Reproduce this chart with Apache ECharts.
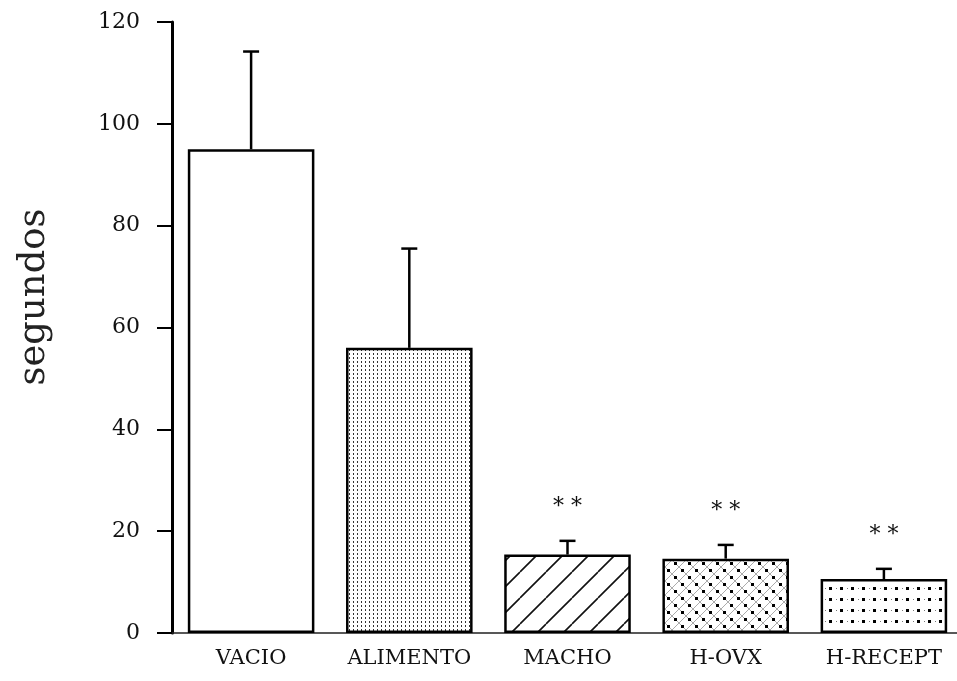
<!DOCTYPE html>
<html>
<head>
<meta charset="utf-8">
<script src="https://cdn.jsdelivr.net/npm/echarts@6/dist/echarts.min.js"></script>
<style>
  html, body { margin: 0; padding: 0; background: #fff; }
  #chart { width: 957px; height: 681px; }
</style>
</head>
<body>
<div id="chart"></div>
<script>
// Grupos experimentales y tiempos medios (segundos) con su error estándar superior
const categories = ['VACIO', 'ALIMENTO', 'MACHO', 'H-OVX', 'H-RECEPT'];
const means = [95, 56, 15.4, 14.6, 10.6];
const errorTops = [114.2, 75.5, 18.1, 17.3, 12.6];
const significance = ['', '', '* *', '* *', '* *'];
const yTicks = [0, 20, 40, 60, 80, 100, 120];
const yTitle = 'segundos';

const SERIF = '"DejaVu Serif", "Liberation Serif", serif';

// Tramas de relleno de cada barra
function makeTile(w, h, draw) {
  const c = document.createElement('canvas');
  c.width = w; c.height = h;
  const ctx = c.getContext('2d');
  ctx.fillStyle = '#fff';
  ctx.fillRect(0, 0, w, h);
  draw(ctx);
  return { image: c, repeat: 'repeat' };
}

const fills = [
  '#ffffff',
  // punteado fino
  makeTile(4, 4, ctx => {
    ctx.fillStyle = '#333';
    ctx.fillRect(1, 1, 1, 2);
  }),
  // rayado diagonal
  makeTile(26, 26, ctx => {
    ctx.strokeStyle = '#111';
    ctx.lineWidth = 1.6;
    ctx.beginPath();
    for (let k = -26; k <= 52; k += 26) {
      ctx.moveTo(k, 26);
      ctx.lineTo(k + 26, 0);
    }
    ctx.stroke();
  }),
  // trama cruzada con puntos
  makeTile(14, 14, ctx => {
    ctx.strokeStyle = '#888';
    ctx.lineWidth = 0.7;
    ctx.beginPath();
    ctx.moveTo(0, 14); ctx.lineTo(14, 0);
    ctx.moveTo(0, 0); ctx.lineTo(14, 14);
    ctx.stroke();
    ctx.fillStyle = '#000';
    ctx.fillRect(2, 2, 3, 3);
    ctx.fillRect(9, 9, 3, 3);
  }),
  // rejilla de puntos
  makeTile(11, 11, ctx => {
    ctx.fillStyle = '#000';
    ctx.fillRect(4, 4, 3, 3);
    ctx.fillStyle = '#777';
    ctx.fillRect(0, 5, 1, 1);
  })
];

const chart = echarts.init(document.getElementById('chart'), null, { renderer: 'canvas' });

chart.setOption({
  animation: false,
  backgroundColor: '#fff',
  grid: {
    left: 172, right: -6, top: 22, bottom: 48,
    containLabel: false,
    outerBoundsMode: 'none'
  },
  graphic: [
    {
      type: 'text',
      x: 34,
      y: 297,
      rotation: Math.PI / 2,
      style: {
        text: yTitle,
        fontFamily: SERIF,
        fontSize: 37,
        fill: '#222',
        align: 'center',
        verticalAlign: 'middle'
      }
    }
  ],
  xAxis: {
    type: 'category',
    data: categories,
    axisLine: { show: true, lineStyle: { color: '#222', width: 1.5 } },
    axisTick: { show: false },
    axisLabel: {
      interval: 0,
      hideOverlap: false,
      margin: 15,
      fontFamily: SERIF,
      fontSize: 21,
      color: '#111'
    }
  },
  yAxis: {
    type: 'value',
    min: 0,
    max: 120,
    interval: 20,
    axisLine: { show: true, lineStyle: { color: '#000', width: 3 } },
    axisTick: { show: true, length: 15, lineStyle: { color: '#000', width: 2 } },
    axisLabel: {
      margin: 32,
      fontFamily: SERIF,
      fontSize: 22,
      color: '#111',
      formatter: v => (yTicks.includes(v) ? String(v) : '')
    },
    splitLine: { show: false }
  },
  series: [
    {
      type: 'bar',
      barCategoryGap: '20%',
      data: means.map((v, i) => ({
        value: v,
        itemStyle: { color: fills[i] }
      })),
      itemStyle: { borderColor: '#000', borderWidth: 2.5 },
      z: 2
    },
    {
      // barra de error superior con remate y marcas de significación
      type: 'custom',
      z: 3,
      data: categories.map((c, i) => [i, means[i], errorTops[i]]),
      renderItem: (params, api) => {
        const base = api.coord([api.value(0), api.value(1)]);
        const top = api.coord([api.value(0), api.value(2)]);
        const capHalf = 8;
        const children = [
          {
            type: 'line',
            shape: { x1: base[0], y1: base[1], x2: top[0], y2: top[1] },
            style: { stroke: '#000', lineWidth: 2.5 }
          },
          {
            type: 'line',
            shape: { x1: top[0] - capHalf, y1: top[1], x2: top[0] + capHalf, y2: top[1] },
            style: { stroke: '#000', lineWidth: 2.5 }
          }
        ];
        const mark = significance[params.dataIndex];
        if (mark) {
          children.push({
            type: 'text',
            x: top[0],
            y: top[1] - 34,
            style: {
              text: mark,
              fontFamily: SERIF,
              fontSize: 22,
              fill: '#111',
              align: 'center',
              verticalAlign: 'middle'
            }
          });
        }
        return { type: 'group', children };
      }
    }
  ]
});
</script>
</body>
</html>
